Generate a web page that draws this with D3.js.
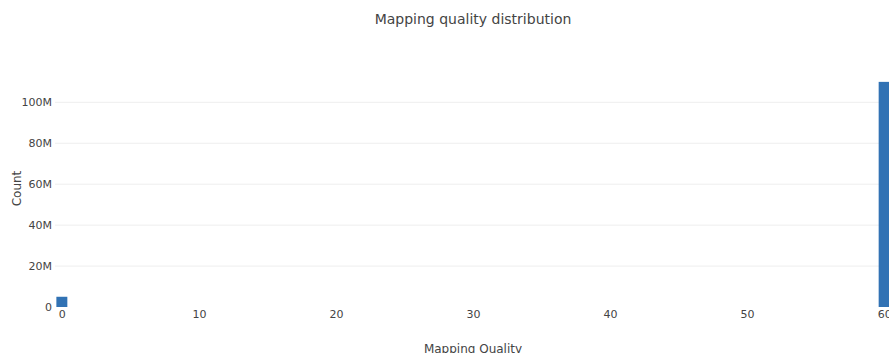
<!DOCTYPE html>
<html>
<head>
<meta charset="utf-8">
<script src="https://cdn.jsdelivr.net/npm/d3@7"></script>
<style>
  body { margin: 0; background: #fff; }
  svg { display: block; font-family: "DejaVu Sans", Verdana, sans-serif; }
</style>
</head>
<body>
<div id="chart"></div>
<script>
const qualities = [0, 60];
const counts = [5000000, 110000000];
const xTicks = [0, 10, 20, 30, 40, 50, 60];
const yTicks = [0, 20e6, 40e6, 60e6, 80e6, 100e6];

const W = 889, H = 353;
const margin = { top: 70, left: 55, bottom: 46 };
const plotRight = 891;
const plotBottom = H - margin.bottom;

const svg = d3.select("#chart").append("svg")
    .attr("width", W)
    .attr("height", H);

const x = d3.scaleLinear().domain([-0.5, 60.5]).range([margin.left, plotRight]);
const y = d3.scaleLinear().domain([0, 115.8e6]).range([plotBottom, margin.top]);

// grid lines
svg.append("g")
    .selectAll("line")
    .data(yTicks.filter(d => d > 0))
    .enter()
    .append("line")
    .attr("x1", margin.left)
    .attr("x2", plotRight)
    .attr("y1", d => y(d))
    .attr("y2", d => y(d))
    .attr("stroke", "#eeeeee")
    .attr("stroke-width", 1);

// bars
const barW = x(0.8) - x(0);
svg.append("g")
    .selectAll("rect")
    .data(qualities.map((q, i) => ({ q, c: counts[i] })))
    .enter()
    .append("rect")
    .attr("x", d => x(d.q) - barW / 2)
    .attr("y", d => y(d.c))
    .attr("width", barW)
    .attr("height", d => y(0) - y(d.c))
    .attr("fill", "#3172b4");

// y axis
const fmt = d => d === 0 ? "0" : d3.format("~s")(d);
svg.append("g")
    .attr("transform", `translate(${margin.left - 2},0)`)
    .call(d3.axisLeft(y).tickValues(yTicks).tickFormat(fmt).tickSize(0).tickPadding(1))
    .call(g => g.select(".domain").remove())
    .selectAll("text")
    .attr("fill", "#444")
    .style("font-size", "11px")
    .style("font-family", "DejaVu Sans, Verdana, sans-serif");

// x axis
svg.append("g")
    .attr("transform", `translate(0,${plotBottom})`)
    .call(d3.axisBottom(x).tickValues(xTicks).tickSize(0).tickPadding(3))
    .call(g => g.select(".domain").remove())
    .selectAll("text")
    .attr("fill", "#444")
    .style("font-size", "11px")
    .style("font-family", "DejaVu Sans, Verdana, sans-serif");

// title
svg.append("text")
    .attr("x", (margin.left + plotRight) / 2)
    .attr("y", 24)
    .attr("text-anchor", "middle")
    .attr("fill", "#444")
    .style("font-size", "14px")
    .text("Mapping quality distribution");

// x axis label
svg.append("text")
    .attr("x", (margin.left + plotRight) / 2)
    .attr("y", 353)
    .attr("text-anchor", "middle")
    .attr("fill", "#444")
    .style("font-size", "12px")
    .text("Mapping Quality");

// y axis label
svg.append("text")
    .attr("transform", "rotate(-90)")
    .attr("x", -(margin.top + plotBottom) / 2)
    .attr("y", 21)
    .attr("text-anchor", "middle")
    .attr("fill", "#444")
    .style("font-size", "12px")
    .text("Count");
</script>
</body>
</html>
